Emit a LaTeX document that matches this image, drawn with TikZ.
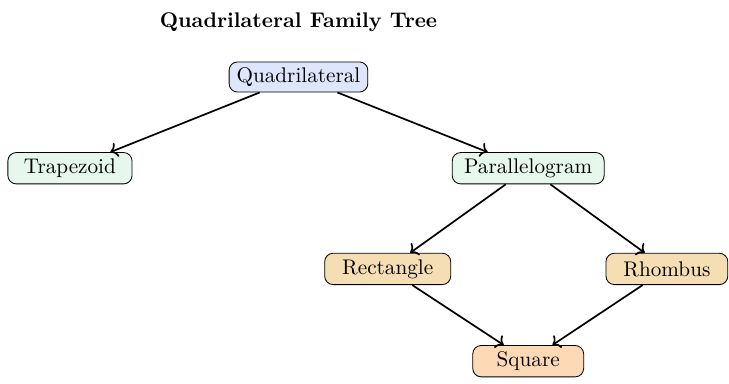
\documentclass[tikz,border=0pt]{standalone}
\usetikzlibrary{arrows.meta}
\definecolor{quadfill}{RGB}{221,230,250}
\definecolor{parafill}{RGB}{230,247,237}
\definecolor{rectfill}{RGB}{245,222,179}
\definecolor{sqfill}{RGB}{253,217,181}
\tikzset{
  shapebox/.style={draw, rounded corners=4pt, thin, minimum height=0.52cm, inner sep=2pt, align=center},
  link/.style={thick, ->}
}
\begin{document}
\begin{tikzpicture}
\useasboundingbox (0,0) rectangle (12.09,-6.368);
\node[font=\bfseries] (title) at (4.95,-0.365) {Quadrilateral Family Tree};
\node[shapebox, fill=quadfill, minimum width=2.3cm, minimum height=0.5cm] (quad) at (4.95,-1.277) {Quadrilateral};
\node[shapebox, fill=parafill, minimum width=2.06cm] (trap) at (1.16,-2.79) {Trapezoid};
\node[shapebox, fill=parafill, minimum width=2.52cm] (para) at (8.76,-2.79) {Parallelogram};
\node[shapebox, fill=rectfill, minimum width=2.09cm] (rect) at (6.43,-4.46) {Rectangle};
\node[shapebox, fill=rectfill, minimum width=2.02cm] (rhom) at (11.06,-4.46) {Rhombus};
\node[shapebox, fill=sqfill, minimum width=1.84cm] (sq) at (8.76,-5.99) {Square};
\draw[link] (quad) -- (trap);
\draw[link] (quad) -- (para);
\draw[link] (para) -- (rect);
\draw[link] (para) -- (rhom);
\draw[link] (rect) -- (sq);
\draw[link] (rhom) -- (sq);
\end{tikzpicture}
\end{document}
